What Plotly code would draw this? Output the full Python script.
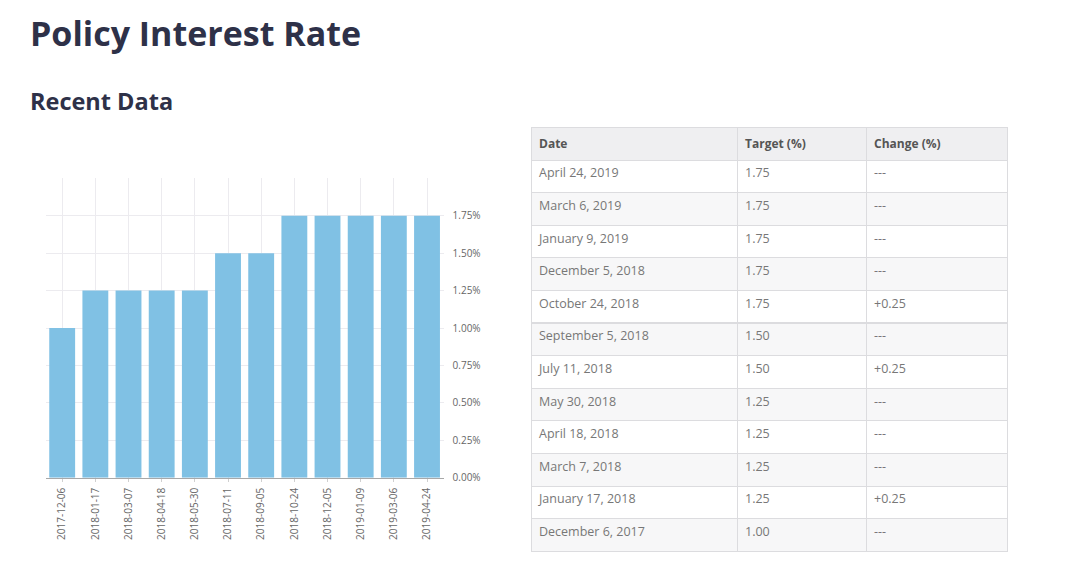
import plotly.graph_objects as go

# ---- data ----
bar_dates = ["2017-12-06", "2018-01-17", "2018-03-07", "2018-04-18", "2018-05-30", "2018-07-11",
             "2018-09-05", "2018-10-24", "2018-12-05", "2019-01-09", "2019-03-06", "2019-04-24"]
bar_rates = [1.00, 1.25, 1.25, 1.25, 1.25, 1.50, 1.50, 1.75, 1.75, 1.75, 1.75, 1.75]

y_tick_vals = [0.0, 0.25, 0.5, 0.75, 1.0, 1.25, 1.5, 1.75, 2.0]
y_tick_text = ["0.00%", "0.25%", "0.50%", "0.75%", "1.00%", "1.25%", "1.50%", "1.75%", ""]

table_header = ["Date", "Target (%)", "Change (%)"]
table_dates = ["April 24, 2019", "March 6, 2019", "January 9, 2019", "December 5, 2018",
               "October 24, 2018", "September 5, 2018", "July 11, 2018", "May 30, 2018",
               "April 18, 2018", "March 7, 2018", "January 17, 2018", "December 6, 2017"]
table_targets = ["1.75", "1.75", "1.75", "1.75", "1.75", "1.50", "1.50", "1.25",
                 "1.25", "1.25", "1.25", "1.00"]
table_changes = ["---", "---", "---", "---", "+0.25", "---", "+0.25", "---",
                 "---", "---", "+0.25", "---"]

W, H = 1065, 573
FONT = "Open Sans"

def px_x(x):
    return x / W

def px_y(y):
    return (H - y) / H

row_fill = ["#ffffff" if i % 2 == 0 else "#f7f7f8" for i in range(len(table_dates))]

fig = go.Figure()

fig.add_trace(go.Bar(
    x=bar_dates, y=bar_rates,
    marker=dict(color="#80c1e4", line=dict(width=0)),
    hoverinfo="x+y",
))

fig.add_trace(go.Table(
    domain=dict(x=[px_x(531), px_x(1007)], y=[px_y(553), px_y(127)]),
    columnwidth=[206, 129, 141],
    header=dict(
        values=[f"<b>{h}</b>" for h in table_header],
        fill_color="#efeff1",
        line=dict(color="#dcdcdf", width=1),
        align="left",
        height=33,
        font=dict(family=FONT, size=12, color="#555555"),
    ),
    cells=dict(
        values=[table_dates, table_targets, table_changes],
        fill_color=[row_fill, row_fill, row_fill],
        line=dict(color="#dcdcdf", width=1),
        align="left",
        height=32.6,
        font=dict(family=FONT, size=12.5, color="#777777"),
    ),
))

fig.update_layout(
    width=W, height=H,
    margin=dict(l=0, r=0, t=0, b=0),
    paper_bgcolor="#ffffff",
    plot_bgcolor="#ffffff",
    showlegend=False,
    bargap=0.22,
    font=dict(family=FONT, color="#666666"),
    xaxis=dict(
        domain=[px_x(45.6), px_x(443.6)],
        type="category",
        automargin=False,
        tickangle=-90,
        showgrid=True, gridcolor="#ecebef", gridwidth=1,
        showline=True, linecolor="#a8a8a8", linewidth=1,
        ticks="outside", ticklen=3, tickcolor="#d0d0d0",
        ticklabelstandoff=2,
        tickfont=dict(family=FONT, size=10, color="#666666"),
        fixedrange=True,
    ),
    yaxis=dict(
        domain=[px_y(477.7), px_y(178.3)],
        side="right",
        automargin=False,
        range=[0, 2.0],
        tickvals=y_tick_vals, ticktext=y_tick_text,
        showgrid=True, gridcolor="#ecebef", gridwidth=1,
        zeroline=False,
        ticks="", ticklabelstandoff=8,
        tickfont=dict(family=FONT, size=10, color="#666666"),
        fixedrange=True,
    ),
    annotations=[
        dict(text="<b>Policy Interest Rate</b>", x=px_x(28), y=px_y(33), xref="paper", yref="paper",
             xanchor="left", yanchor="middle", showarrow=False,
             font=dict(family=FONT, size=34, color="#2e3148")),
        dict(text="<b>Recent Data</b>", x=px_x(28), y=px_y(101), xref="paper", yref="paper",
             xanchor="left", yanchor="middle", showarrow=False,
             font=dict(family=FONT, size=23.5, color="#2e3148")),
    ],
)

fig.write_html("out.html", config={"displayModeBar": False},
               post_script="document.body.style.margin='0';")
